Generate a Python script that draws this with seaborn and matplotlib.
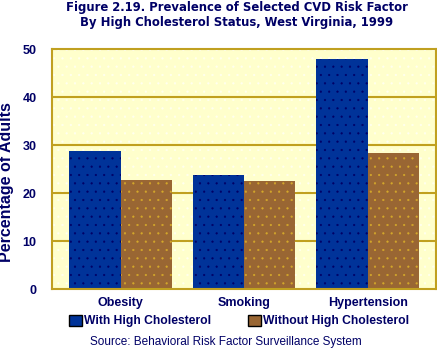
import matplotlib
matplotlib.use("Agg")
import matplotlib.pyplot as plt
import seaborn as sns
import pandas as pd
from matplotlib.patches import Patch

categories = ["Obesity", "Smoking", "Hypertension"]
with_chol = [28.7, 23.7, 47.9]
without_chol = [22.8, 22.6, 28.3]
series_names = ["With High Cholesterol", "Without High Cholesterol"]
yticks = [0, 10, 20, 30, 40, 50]

NAVY = "#000066"
BLUE = "#003399"
BROWN = "#996633"
GRID = "#C0A020"
BG = "#FFFFCC"

df = pd.DataFrame({
    "Category": categories * 2,
    "Series": [series_names[0]] * 3 + [series_names[1]] * 3,
    "Value": with_chol + without_chol,
})

sns.set_style("white")
plt.rcParams["font.family"] = ["Liberation Sans", "DejaVu Sans"]
plt.rcParams["hatch.linewidth"] = 0.35

fig = plt.figure(figsize=(4.37, 3.5), dpi=100)
ax = fig.add_axes([51.7 / 437, 1 - 289 / 350, (436 - 51.7) / 437, 240 / 350])

sns.barplot(data=df, x="Category", y="Value", hue="Series", order=categories,
            hue_order=series_names, palette=[BLUE, BROWN], width=0.83,
            saturation=1, ax=ax, legend=False, zorder=3)

dot_colors = [NAVY, "#D4A82A"]
for i, cont in enumerate(ax.containers):
    for bar in cont:
        bar.set_edgecolor(dot_colors[i])
        bar.set_linewidth(0)
        bar.set_hatch("..")

ax.set_facecolor(BG)
ax.patch.set_edgecolor("#FFFFF0")
ax.patch.set_hatch("..")
ax.patch.set_linewidth(0)

ax.set_ylim(0, 50)
ax.set_xlim(-0.557, 2.553)
ax.set_yticks(yticks)
ax.set_yticklabels([str(t) for t in yticks], fontsize=9, fontweight="bold", color=NAVY)
ax.set_xticks(range(len(categories)))
ax.set_xticklabels(categories, fontsize=9, fontweight="bold", color=NAVY)
ax.tick_params(axis="y", length=0, pad=11)
ax.tick_params(axis="x", length=0, pad=6)
ax.set_xlabel("")
ax.set_ylabel("")
for t in yticks[1:-1]:
    ax.axhline(t, color=GRID, lw=1.5, zorder=1)
for s in ax.spines.values():
    s.set_visible(True)
    s.set_color(GRID)
    s.set_linewidth(1.5)
    s.set_zorder(4)

fig.text(7 / 437, 1 - 182 / 350, "Percentage of Adults", rotation=90,
         ha="center", va="center", fontsize=11.5, fontweight="bold", color=NAVY)

fig.text(237 / 437, 1 - 1 / 350,
         "Figure 2.19. Prevalence of Selected CVD Risk Factor\nBy High Cholesterol Status, West Virginia, 1999",
         ha="center", va="top", fontsize=8.4, fontweight="bold", color=NAVY,
         family="DejaVu Sans", linespacing=1.2)

handles = [Patch(facecolor=BLUE, edgecolor="black", linewidth=1.0, label=series_names[0]),
           Patch(facecolor=BROWN, edgecolor="black", linewidth=1.0, label=series_names[1])]
leg = fig.legend(handles=handles, loc="center left", bbox_to_anchor=(69 / 437, 1 - 321 / 350),
                 ncol=2, frameon=False, borderpad=0, borderaxespad=0,
                 handlelength=1.07, handleheight=1.07, handletextpad=0.2,
                 columnspacing=3.0, prop={"weight": "bold", "size": 8.7})
for txt in leg.get_texts():
    txt.set_color(NAVY)

fig.text(226 / 437, 1 - 342 / 350, "Source: Behavioral Risk Factor Surveillance System",
         ha="center", va="center", fontsize=8.5, color=NAVY)

fig.savefig("out.png", dpi=100)
